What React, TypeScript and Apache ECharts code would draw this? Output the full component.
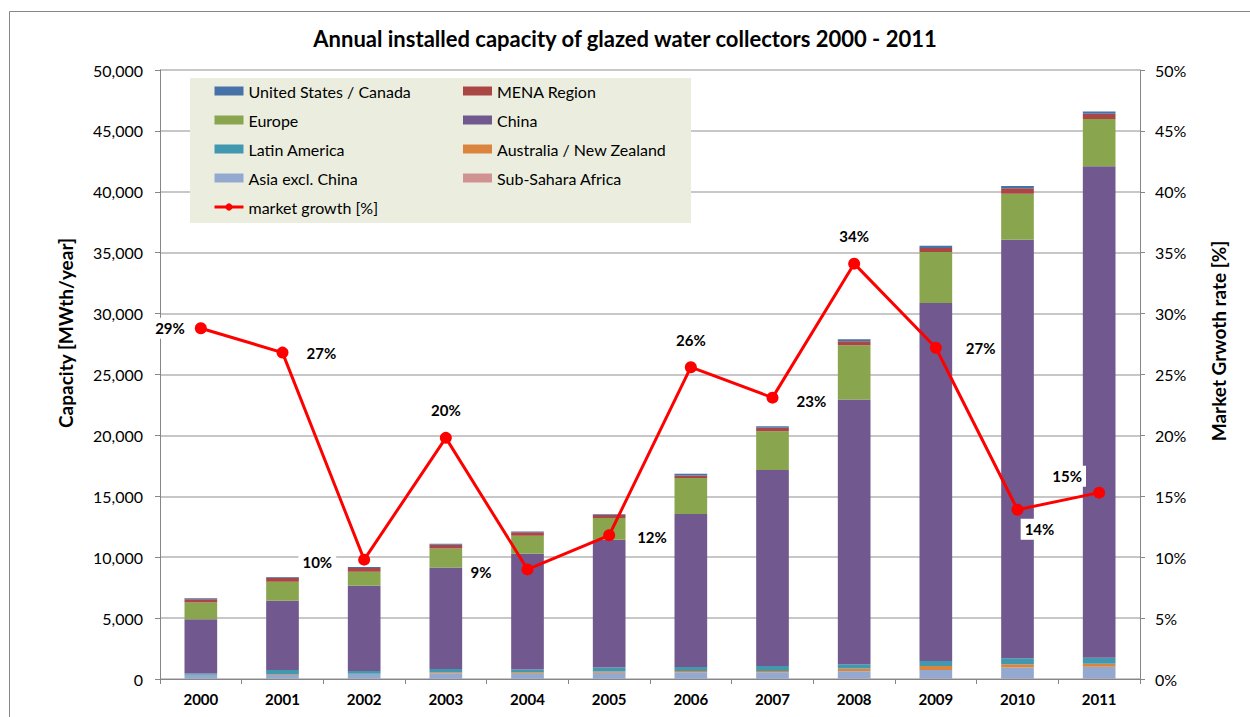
import React, { useEffect, useRef } from 'react';
import * as echarts from 'echarts';

const years = ['2000', '2001', '2002', '2003', '2004', '2005', '2006', '2007', '2008', '2009', '2010', '2011'];

// Installed capacity in MWth/year
const usCanada = [80, 60, 80, 80, 60, 60, 140, 140, 150, 190, 190, 190];
const mena = [270, 330, 300, 300, 280, 250, 200, 280, 330, 330, 440, 440];
const europe = [1370, 1560, 1150, 1560, 1480, 1780, 2960, 3180, 4470, 4170, 3790, 3870];
const china = [4460, 5700, 7000, 8340, 9490, 10480, 12570, 16100, 21730, 29410, 34350, 40350];
const latinAmerica = [100, 330, 220, 270, 250, 330, 330, 410, 350, 410, 490, 490];
const australiaNZ = [30, 80, 30, 80, 100, 100, 100, 100, 220, 330, 270, 250];
const asiaExclChina = [300, 300, 380, 440, 410, 490, 520, 520, 600, 680, 900, 960];
const subSaharaAfrica = [20, 20, 30, 30, 30, 30, 30, 30, 40, 50, 50, 50];

// Market growth in %
const marketGrowth = [28.8, 26.8, 9.8, 19.8, 9.0, 11.8, 25.6, 23.1, 34.1, 27.2, 13.9, 15.3];

const leftTicks = { min: 0, max: 50000, interval: 5000 };
const rightTicks = { min: 0, max: 50, interval: 5 };

// label placement (style only)
const labelPlacement: { position: string; distance: number; offset?: number[] }[] = [
  { position: 'left', distance: 6 },
  { position: 'right', distance: 14 },
  { position: 'left', distance: 22, offset: [0, 2] },
  { position: 'top', distance: 11 },
  { position: 'left', distance: 26, offset: [0, 3] },
  { position: 'right', distance: 18, offset: [0, 2] },
  { position: 'top', distance: 11 },
  { position: 'right', distance: 14, offset: [0, 3] },
  { position: 'top', distance: 11 },
  { position: 'right', distance: 20 },
  { position: 'bottom', distance: 3, offset: [22, 0] },
  { position: 'top', distance: 0, offset: [-32, 0] },
];

const FONT = 'Lato';

const COLORS: Record<string, string> = {
  'United States / Canada': '#4672A8',
  'MENA Region': '#AA4643',
  Europe: '#89A54E',
  China: '#71588F',
  'Latin America': '#4198AF',
  'Australia / New Zealand': '#DB843D',
  'Asia excl. China': '#93A9CF',
  'Sub-Sahara Africa': '#D19392',
};

export default function App() {
  const ref = useRef<HTMLDivElement>(null);
  useEffect(() => {
    document.body.style.margin = '0';
    const chart = echarts.init(ref.current!, null, { renderer: 'svg' });

    const barSeries = [
      ['Sub-Sahara Africa', subSaharaAfrica],
      ['Asia excl. China', asiaExclChina],
      ['Australia / New Zealand', australiaNZ],
      ['Latin America', latinAmerica],
      ['China', china],
      ['Europe', europe],
      ['MENA Region', mena],
      ['United States / Canada', usCanada],
    ].map(([name, data]) => ({
      name: name as string,
      type: 'bar',
      stack: 'cap',
      barWidth: '40%',
      data: data as number[],
      itemStyle: { color: COLORS[name as string] },
      z: 2,
    }));

    const legendText = { fontFamily: FONT, fontSize: 16, color: '#000', lineHeight: 18 };

    const option: any = {
      animation: false,
      textStyle: { fontFamily: FONT },
      title: {
        text: 'Annual installed capacity of glazed water collectors 2000 - 2011',
        left: 'center',
        top: 22,
        textStyle: { fontFamily: FONT, fontSize: 22, fontWeight: 'bold', color: '#000' },
      },
      grid: { left: 160, right: 110, top: 70, bottom: 38, containLabel: false },
      legend: [
        {
          orient: 'vertical',
          left: 213,
          top: 82,
          padding: 0,
          itemWidth: 29,
          itemHeight: 9,
          itemGap: 11,
          textStyle: legendText,
          data: [
            { name: 'United States / Canada', icon: 'rect' },
            { name: 'Europe', icon: 'rect' },
            { name: 'Latin America', icon: 'rect' },
            { name: 'Asia excl. China', icon: 'rect' },
            { name: 'market growth [%]', lineStyle: { width: 3, color: '#FF0000' }, itemStyle: { color: '#FF0000' } },
          ],
        },
        {
          orient: 'vertical',
          left: 463,
          top: 82,
          padding: 0,
          itemWidth: 29,
          itemHeight: 9,
          itemGap: 11,
          textStyle: legendText,
          data: [
            { name: 'MENA Region', icon: 'rect' },
            { name: 'China', icon: 'rect' },
            { name: 'Australia / New Zealand', icon: 'rect' },
            { name: 'Sub-Sahara Africa', icon: 'rect' },
          ],
        },
      ],
      graphic: [
        {
          type: 'rect',
          shape: { x: 9.5, y: 11.5, width: 1260, height: 720 },
          style: { fill: 'none', stroke: '#868686', lineWidth: 1 },
          z: 0,
          silent: true,
        },
        {
          type: 'rect',
          shape: { x: 190, y: 78, width: 501, height: 145 },
          style: { fill: '#EBEEDF' },
          z: 1,
          silent: true,
        },
        {
          type: 'text',
          x: 65,
          y: 333,
          rotation: Math.PI / 2,
          style: {
            text: 'Capacity [MWth/year]',
            fontFamily: FONT,
            fontSize: 19,
            fontWeight: 'bold',
            fill: '#000',
            textAlign: 'center',
            textVerticalAlign: 'middle',
          },
        },
        {
          type: 'text',
          x: 1218,
          y: 341,
          rotation: Math.PI / 2,
          style: {
            text: 'Market Grwoth rate [%]',
            fontFamily: FONT,
            fontSize: 19,
            fontWeight: 'bold',
            fill: '#000',
            textAlign: 'center',
            textVerticalAlign: 'middle',
          },
        },
      ],
      xAxis: {
        type: 'category',
        data: years,
        axisLine: { lineStyle: { color: '#868686', width: 1 } },
        axisTick: { show: true, length: 5, lineStyle: { color: '#868686' } },
        axisLabel: { fontFamily: FONT, fontSize: 15, fontWeight: 'bold', color: '#000', margin: 12 },
      },
      yAxis: [
        {
          type: 'value',
          ...leftTicks,
          axisLine: { show: true, lineStyle: { color: '#868686' } },
          axisTick: { show: true, length: 5, lineStyle: { color: '#868686' } },
          axisLabel: {
            fontFamily: FONT,
            fontSize: 16,
            color: '#000',
            margin: 17,
            formatter: (v: number) => v.toLocaleString('en-US'),
          },
          splitLine: { show: true, lineStyle: { color: '#B5B5B5', width: 1.5 } },
        },
        {
          type: 'value',
          ...rightTicks,
          position: 'right',
          axisLine: { show: true, lineStyle: { color: '#868686' } },
          axisTick: { show: true, length: 5, lineStyle: { color: '#868686' } },
          axisLabel: { fontFamily: FONT, fontSize: 16, color: '#000', margin: 15, formatter: '{value}%' },
          splitLine: { show: false },
        },
      ],
      series: [
        ...barSeries,
        {
          name: 'market growth [%]',
          type: 'line',
          yAxisIndex: 1,
          z: 5,
          symbol: 'circle',
          symbolSize: 12,
          lineStyle: { color: '#FF0000', width: 3 },
          itemStyle: { color: '#FF0000' },
          data: marketGrowth.map((v, i) => ({
            value: v,
            label: {
              show: true,
              position: labelPlacement[i].position,
              distance: labelPlacement[i].distance,
              offset: labelPlacement[i].offset || [0, 0],
            },
          })),
          label: {
            show: true,
            fontFamily: FONT,
            fontSize: 15,
            fontWeight: 'bold',
            color: '#000',
            backgroundColor: '#FFFFFF',
            padding: [3, 4],
            formatter: (p: any) => Math.round(p.value) + '%',
          },
        },
      ],
    };

    chart.setOption(option);
    return () => chart.dispose();
  }, []);
  return <div ref={ref} style={{ width: 1250, height: 717 }} />;
}
